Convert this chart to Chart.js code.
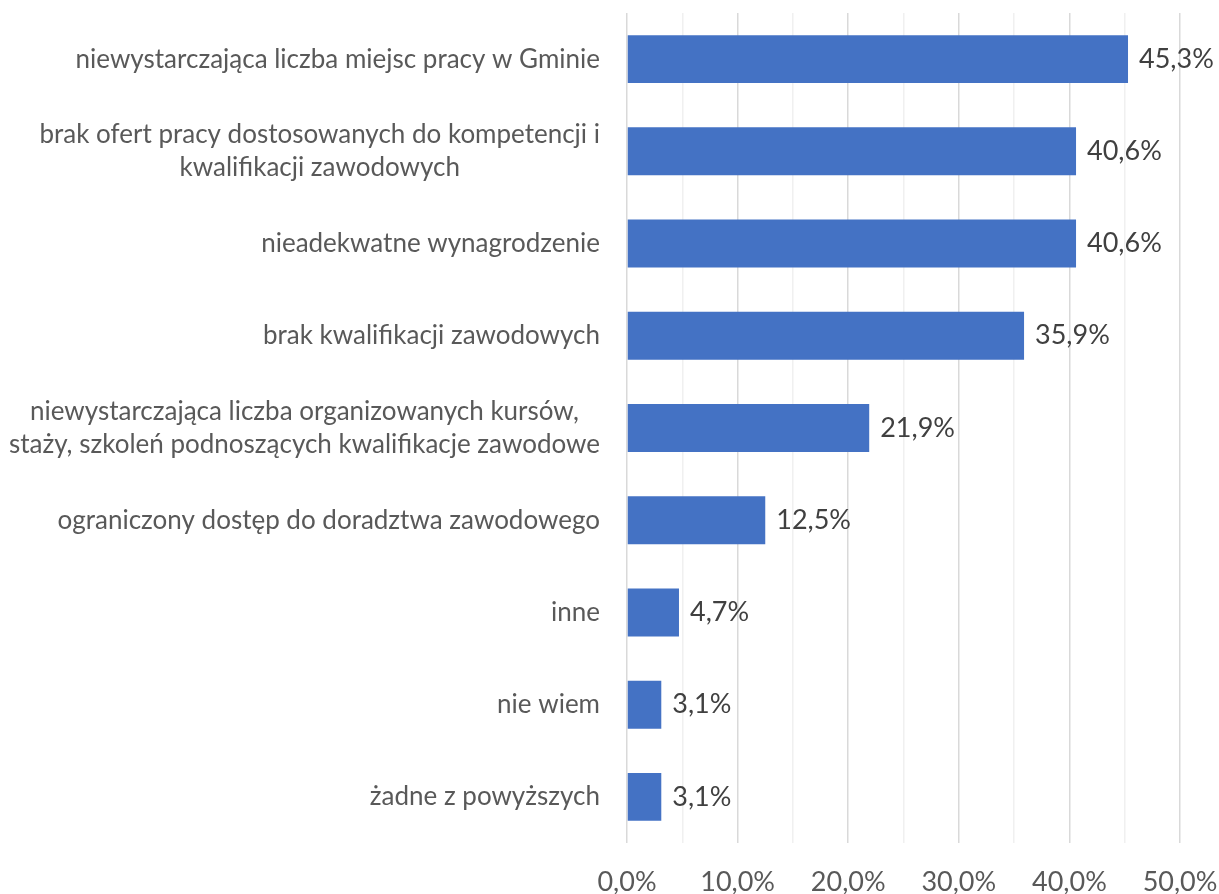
<!DOCTYPE html>
<html>
<head>
<meta charset="utf-8">
<script src="https://cdn.jsdelivr.net/npm/chart.js@4"></script>
<style>
  body { margin: 0; background: #fff; }
  #wrap { width: 1219px; height: 894px; }
</style>
</head>
<body>
<div id="wrap"><canvas id="barChart" width="1219" height="894"></canvas></div>
<script>
const categories = [
    ['niewystarczająca liczba miejsc pracy w Gminie'],
    ['brak ofert pracy dostosowanych do kompetencji i', 'kwalifikacji zawodowych'],
    ['nieadekwatne wynagrodzenie'],
    ['brak kwalifikacji zawodowych'],
    ['niewystarczająca liczba organizowanych kursów,', 'staży, szkoleń podnoszących kwalifikacje zawodowe'],
    ['ograniczony dostęp do doradztwa zawodowego'],
    ['inne'],
    ['nie wiem'],
    ['żadne z powyższych']
];
const percents = [45.3, 40.6, 40.6, 35.9, 21.9, 12.5, 4.7, 3.1, 3.1];
const axisMax = 50;
const axisStep = 5;

const FONT = 'Lato, "Open Sans", sans-serif';

function pct(v) {
    return v.toFixed(1).replace('.', ',') + '%';
}

// category labels: widest line right-aligned, the other lines centred under it
const categoryLabels = {
    id: 'categoryLabels',
    afterDraw: function(chart) {
        var ctx = chart.ctx;
        var yScale = chart.scales.y;
        var right = chart.chartArea.left - 27;
        var lineH = 33;
        ctx.save();
        ctx.font = '26px ' + FONT;
        ctx.fillStyle = '#595959';
        ctx.textAlign = 'center';
        ctx.textBaseline = 'middle';
        categories.forEach(function(lines, i) {
            var y = yScale.getPixelForTick(i);
            var w = Math.max.apply(null, lines.map(function(l) { return ctx.measureText(l).width; }));
            var cx = right - w / 2;
            lines.forEach(function(l, j) {
                ctx.fillText(l, cx, y + (j - (lines.length - 1) / 2) * lineH);
            });
        });
        ctx.restore();
    }
};

const valueLabels = {
    id: 'valueLabels',
    afterDatasetsDraw: function(chart) {
        var ctx = chart.ctx;
        var meta = chart.getDatasetMeta(0);
        ctx.save();
        ctx.font = '27px ' + FONT;
        ctx.fillStyle = '#404040';
        ctx.textAlign = 'left';
        ctx.textBaseline = 'middle';
        meta.data.forEach(function(bar, i) {
            ctx.fillText(pct(percents[i]), bar.x + 11, bar.y);
        });
        ctx.restore();
    }
};

var ctx = document.getElementById('barChart').getContext('2d');
var barChart = new Chart(ctx, {
    type: 'bar',
    data: {
        labels: categories.map(function(l) { return l.join(' '); }),
        datasets: [{
            data: percents,
            backgroundColor: '#4472C4',
            barPercentage: 0.52,
            categoryPercentage: 1
        }]
    },
    plugins: [categoryLabels, valueLabels],
    options: {
        indexAxis: 'y',
        responsive: false,
        animation: false,
        layout: { padding: { top: 13, right: 39, left: 0, bottom: 0 } },
        plugins: {
            legend: { display: false },
            tooltip: { enabled: false }
        },
        scales: {
            x: {
                min: 0,
                max: axisMax,
                border: { display: false },
                grid: {
                    drawTicks: false,
                    lineWidth: 1.5,
                    color: function(c) {
                        return c.tick && c.tick.value % 10 === 0 ? '#d9d9d9' : '#f0f0f0';
                    }
                },
                ticks: {
                    stepSize: axisStep,
                    autoSkip: false,
                    maxRotation: 0,
                    padding: 23,
                    color: '#595959',
                    font: { family: FONT, size: 27 },
                    callback: function(v) {
                        return v % 10 === 0 ? pct(v) : '';
                    }
                },
                afterFit: function(scale) {
                    scale.height = 51;
                    scale.paddingLeft = 0;
                    scale.paddingRight = 0;
                }
            },
            y: {
                border: { display: false },
                grid: { display: false, drawTicks: false },
                ticks: { display: false },
                afterFit: function(scale) { scale.width = 627; }
            }
        }
    }
});
</script>
</body>
</html>
